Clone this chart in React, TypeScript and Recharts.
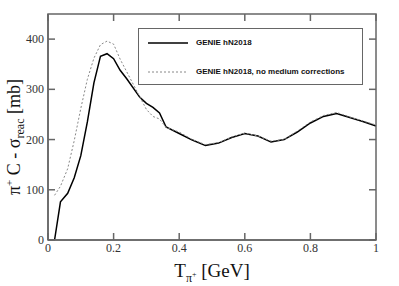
import { LineChart, Line, XAxis, YAxis, Legend } from "recharts";

// pion kinetic energy [GeV]
const energies = [0.02, 0.038, 0.06, 0.08, 0.1, 0.12, 0.14, 0.16, 0.18, 0.2, 0.22, 0.24, 0.28, 0.3, 0.32, 0.34, 0.36, 0.4, 0.44, 0.48, 0.52, 0.56, 0.6, 0.64, 0.68, 0.72, 0.76, 0.8, 0.84, 0.88, 0.92, 0.96, 1.0];
// reaction cross section [mb]
const hnMedium = [0, 76, 93, 124, 168, 235, 313, 366, 371, 361, 338, 321, 284, 272, 264, 253, 225, 212, 199, 188, 193, 204, 212, 207, 195, 200, 215, 233, 246, 252, 244, 236, 227];
const hnNoMedium = [89, 107, 142, 198, 262, 320, 362, 389, 396, 390, 360, 335, 285, 260, 246, 241, 224, 215, 200, 190, 194, 205, 213, 207, 197, 200, 217, 235, 248, 254, 245, 237, 229];

const xTicks = [0, 0.2, 0.4, 0.6, 0.8, 1];
const yTicks = [0, 100, 200, 300, 400];
const seriesNames = ["GENIE hN2018", "GENIE hN2018, no medium corrections"];

const data = energies.map((t, i) => ({ t, hn: hnMedium[i], hnNoMed: hnNoMedium[i] }));

const X_MAX = 1;
const Y_MAX = 450;

const W = 399;
const H = 286;
const M = { top: 14, right: 23, left: 48, bottom: 46 };
const plotW = W - M.left - M.right;
const plotH = H - M.top - M.bottom;

const frame = "#666";
const serif = "'Liberation Serif', 'DejaVu Serif', serif";

const XTick = ({ x, y, payload }: any) => (
    <text x={x} y={y + 12} textAnchor="middle" fontFamily={serif} fontSize={12} fill="#333">
        {String(payload.value)}
    </text>
);

const YTick = ({ x, y, payload }: any) => (
    <text x={x - 4} y={y + 4} textAnchor="end" fontFamily={serif} fontSize={12} fill="#333">
        {String(payload.value)}
    </text>
);

const XTitle = ({ viewBox }: any) => {
    const cx = viewBox.x + viewBox.width / 2;
    return (
        <text x={cx} y={277} textAnchor="middle" fontFamily={serif} fontSize={19} fill="#111">
            T<tspan dy={5} fontSize={12}>π</tspan>
            <tspan dy={-5} fontSize={8}>+</tspan>
            <tspan dy={0}> [GeV]</tspan>
        </text>
    );
};

const YTitle = ({ viewBox }: any) => {
    const cx = 20;
    const cy = viewBox.y + viewBox.height / 2 + 10;
    return (
        <text x={cx} y={cy} transform={`rotate(-90 ${cx} ${cy})`} textAnchor="middle" fontFamily={serif} fontSize={18} fill="#111">
            π<tspan dy={-7} fontSize={11}>+</tspan>
            <tspan dy={7}> C - σ</tspan>
            <tspan dy={4} fontSize={12}>reac</tspan>
            <tspan dy={-4}> [mb]</tspan>
        </text>
    );
};

// box frame with inward tick marks on all four sides (xmgrace style)
const Frame = () => {
    const px = (v: number) => M.left + (v / X_MAX) * plotW;
    const py = (v: number) => M.top + plotH - (v / Y_MAX) * plotH;
    const len = 7;
    return (
        <svg width={W} height={H} style={{ position: "absolute", left: 0, top: 0, pointerEvents: "none" }}>
            <g stroke={frame} strokeWidth={1.5} fill="none">
                <rect x={M.left} y={M.top} width={plotW} height={plotH} />
                {xTicks.map((v) => (
                    <g key={`x${v}`}>
                        <line x1={px(v)} x2={px(v)} y1={M.top + plotH} y2={M.top + plotH - len} />
                        <line x1={px(v)} x2={px(v)} y1={M.top} y2={M.top + len} />
                    </g>
                ))}
                {yTicks.map((v) => (
                    <g key={`y${v}`}>
                        <line x1={M.left} x2={M.left + len} y1={py(v)} y2={py(v)} />
                        <line x1={M.left + plotW} x2={M.left + plotW - len} y1={py(v)} y2={py(v)} />
                    </g>
                ))}
            </g>
        </svg>
    );
};

const LegendBox = () => (
    <div
        style={{
            width: 225,
            height: 57,
            boxSizing: "border-box",
            border: `1px solid ${frame}`,
            background: "#fff",
            fontFamily: "'Liberation Sans', Arial, sans-serif",
            fontWeight: "bold",
            fontSize: 8,
            color: "#111",
            position: "relative",
        }}
    >
        <svg width={40} height={4} style={{ position: "absolute", left: 9, top: 12 }}>
            <line x1={0} y1={2} x2={40} y2={2} stroke="#000" strokeWidth={1.5} />
        </svg>
        <span style={{ position: "absolute", left: 57, top: 9 }}>{seriesNames[0]}</span>
        <svg width={40} height={4} style={{ position: "absolute", left: 9, top: 41 }}>
            <line x1={0} y1={2} x2={40} y2={2} stroke="#888" strokeWidth={1} strokeDasharray="2 2" />
        </svg>
        <span style={{ position: "absolute", left: 57, top: 38 }}>{seriesNames[1]}</span>
    </div>
);

export default function App() {
    return (
        <div style={{ position: "absolute", left: 0, top: 0, width: W, height: H, background: "#fff" }}>
            <LineChart width={W} height={H} data={data} margin={{ top: M.top, right: M.right, bottom: 0, left: 0 }}>
                <XAxis
                    dataKey="t"
                    type="number"
                    domain={[0, X_MAX]}
                    ticks={xTicks}
                    height={M.bottom}
                    stroke={frame}
                    strokeWidth={1.5}
                    tickLine={false}
                    tickSize={0}
                    tickMargin={0}
                    tick={<XTick />}
                    label={<XTitle />}
                />
                <YAxis
                    type="number"
                    domain={[0, Y_MAX]}
                    ticks={yTicks}
                    width={M.left}
                    stroke={frame}
                    strokeWidth={1.5}
                    tickLine={false}
                    tickSize={0}
                    tickMargin={0}
                    tick={<YTick />}
                    label={<YTitle />}
                />
                <Legend
                    layout="vertical"
                    align="center"
                    verticalAlign="middle"
                    wrapperStyle={{ left: 138, top: 28, width: 225 }}
                    content={<LegendBox />}
                />
                <Line
                    dataKey="hn"
                    name={seriesNames[0]}
                    stroke="#000"
                    strokeWidth={1.5}
                    dot={false}
                    type="linear"
                    isAnimationActive={false}
                />
                <Line
                    dataKey="hnNoMed"
                    name={seriesNames[1]}
                    stroke="#888"
                    strokeWidth={1}
                    strokeDasharray="2 2"
                    dot={false}
                    type="linear"
                    isAnimationActive={false}
                />
            </LineChart>
            <Frame />
        </div>
    );
}
